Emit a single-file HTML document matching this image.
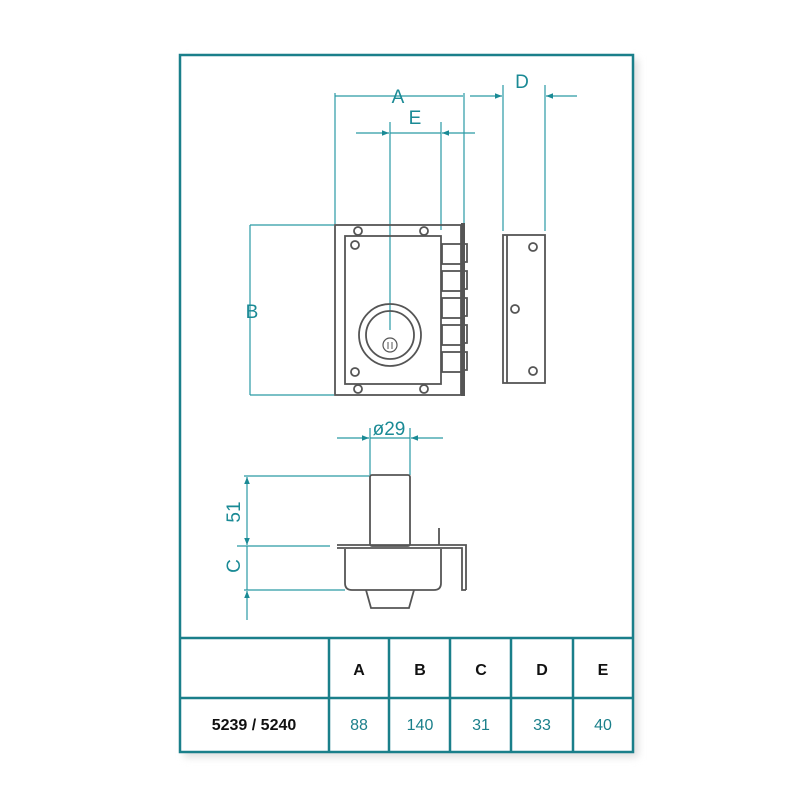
<!DOCTYPE html>
<html><head><style>
html,body{margin:0;padding:0;background:#fff;}
svg{display:block;}
</style></head><body>
<svg width="800" height="800" viewBox="0 0 800 800" xmlns="http://www.w3.org/2000/svg">
<defs>
<filter id="sh" x="-5%" y="-5%" width="115%" height="115%"><feGaussianBlur stdDeviation="4"/></filter>
<marker id="ar" viewBox="0 0 10 10" refX="10" refY="5" markerWidth="9" markerHeight="7" orient="auto-start-reverse" markerUnits="userSpaceOnUse"><path d="M0,1 L10,5 L0,9 z" fill="#1a8a95"/></marker>
</defs>
<rect x="184" y="59" width="454" height="698" fill="#ddd" filter="url(#sh)"/>
<rect x="180" y="55" width="453" height="697" fill="#fff" stroke="#1a7f8a" stroke-width="2.5"/>

<g stroke="#2a9aa5" stroke-width="1.2" fill="none">
<!-- A -->
<line x1="335" y1="96" x2="463" y2="96"/>
<line x1="335" y1="93" x2="335" y2="224"/>
<line x1="464" y1="93" x2="464" y2="224"/>
<!-- E -->
<line x1="356" y1="133" x2="389" y2="133" marker-end="url(#ar)"/>
<line x1="390" y1="133" x2="441" y2="133"/>
<line x1="475" y1="133" x2="442" y2="133" marker-end="url(#ar)"/>
<line x1="390" y1="122" x2="390" y2="330"/>
<line x1="441" y1="122" x2="441" y2="230"/>
<!-- D -->
<line x1="470" y1="96" x2="502" y2="96" marker-end="url(#ar)"/>
<line x1="577" y1="96" x2="546" y2="96" marker-end="url(#ar)"/>
<line x1="503" y1="85" x2="503" y2="231"/>
<line x1="545" y1="85" x2="545" y2="231"/>
<!-- B -->
<line x1="250" y1="225" x2="250" y2="395"/>
<line x1="250" y1="225" x2="334" y2="225"/>
<line x1="250" y1="395" x2="334" y2="395"/>
<!-- ø29 -->
<line x1="337" y1="438" x2="369" y2="438" marker-end="url(#ar)"/>
<line x1="370" y1="438" x2="410" y2="438"/>
<line x1="443" y1="438" x2="411" y2="438" marker-end="url(#ar)"/>
<line x1="370" y1="428" x2="370" y2="475"/>
<line x1="410" y1="428" x2="410" y2="475"/>
<!-- 51 / C -->
<line x1="244" y1="476" x2="370" y2="476"/>
<line x1="237" y1="546" x2="330" y2="546"/>
<line x1="244" y1="590" x2="345" y2="590"/>
<line x1="247" y1="510" x2="247" y2="477" marker-end="url(#ar)"/>
<line x1="247" y1="510" x2="247" y2="545" marker-end="url(#ar)"/>
<line x1="247" y1="546" x2="247" y2="590"/>
<line x1="247" y1="620" x2="247" y2="591" marker-end="url(#ar)"/>
</g>
<g fill="#1a8a95" font-family="Liberation Sans, sans-serif" font-size="19">
<text x="398" y="103" text-anchor="middle" font-weight="300">A</text>
<text x="415" y="124" text-anchor="middle">E</text>
<text x="522" y="88" text-anchor="middle">D</text>
<text x="252" y="318" text-anchor="middle">B</text>
<text x="389" y="435" text-anchor="middle">ø29</text>
<text transform="translate(240,512) rotate(-90)" text-anchor="middle">51</text>
<text transform="translate(240,566) rotate(-90)" text-anchor="middle">C</text>
</g>

<!-- lock front -->
<g stroke="#555" stroke-width="1.8" fill="none">
<rect x="335" y="225" width="126" height="170"/>
<rect x="345" y="236" width="96" height="148"/>
<rect x="442" y="244" width="20" height="20"/>
<rect x="442" y="271" width="20" height="20"/>
<rect x="442" y="298" width="20" height="20"/>
<rect x="442" y="325" width="20" height="20"/>
<rect x="442" y="352" width="20" height="20"/>
<path d="M462,244 h5 v18 h-5 M462,271 h5 v18 h-5 M462,298 h5 v18 h-5 M462,325 h5 v18 h-5 M462,352 h5 v18 h-5"/>
<circle cx="358" cy="231" r="4"/><circle cx="424" cy="231" r="4"/>
<circle cx="358" cy="389" r="4"/><circle cx="424" cy="389" r="4"/>
<circle cx="355" cy="245" r="4"/><circle cx="355" cy="372" r="4"/>
<circle cx="390" cy="335" r="31"/><circle cx="390" cy="335" r="24"/>
<circle cx="390" cy="345" r="7" stroke-width="1.2"/>
<path d="M388,342 v7 M392,342 v7" stroke-width="1"/>
<!-- strike -->
<rect x="503" y="235" width="42" height="148"/>
<line x1="507" y1="235" x2="507" y2="383"/>
<circle cx="533" cy="247" r="4"/><circle cx="515" cy="309" r="4"/><circle cx="533" cy="371" r="4"/>
<!-- side view -->
<rect x="370" y="475" width="40" height="71" rx="2"/>
<path d="M337,545 H466 V590 M337,548 H462 V590 H466"/>
<line x1="439" y1="528" x2="439" y2="545"/>
<path d="M345,549 V583 Q345,590 352,590 H434 Q441,590 441,583 V549"/>
<path d="M366,590 L371,608 H409 L414,590"/>
</g>
<rect x="461" y="223" width="4" height="173" fill="#555"/>

<!-- table -->
<g stroke="#1a7f8a" stroke-width="2.5" fill="none">
<line x1="180" y1="638" x2="633" y2="638"/>
<line x1="180" y1="698" x2="633" y2="698"/>
<line x1="329" y1="638" x2="329" y2="752"/>
<line x1="389" y1="638" x2="389" y2="752"/>
<line x1="450" y1="638" x2="450" y2="752"/>
<line x1="511" y1="638" x2="511" y2="752"/>
<line x1="573" y1="638" x2="573" y2="752"/>
</g>
<g font-family="Liberation Sans, sans-serif" font-size="16" text-anchor="middle">
<g font-weight="bold" fill="#111">
<text x="359" y="675">A</text><text x="420" y="675">B</text><text x="481" y="675">C</text><text x="542" y="675">D</text><text x="603" y="675">E</text>
<text x="254" y="730">5239 / 5240</text>
</g>
<g fill="#1a7f8a">
<text x="359" y="730">88</text><text x="420" y="730">140</text><text x="481" y="730">31</text><text x="542" y="730">33</text><text x="603" y="730">40</text>
</g>
</g>
</svg>
</body></html>
